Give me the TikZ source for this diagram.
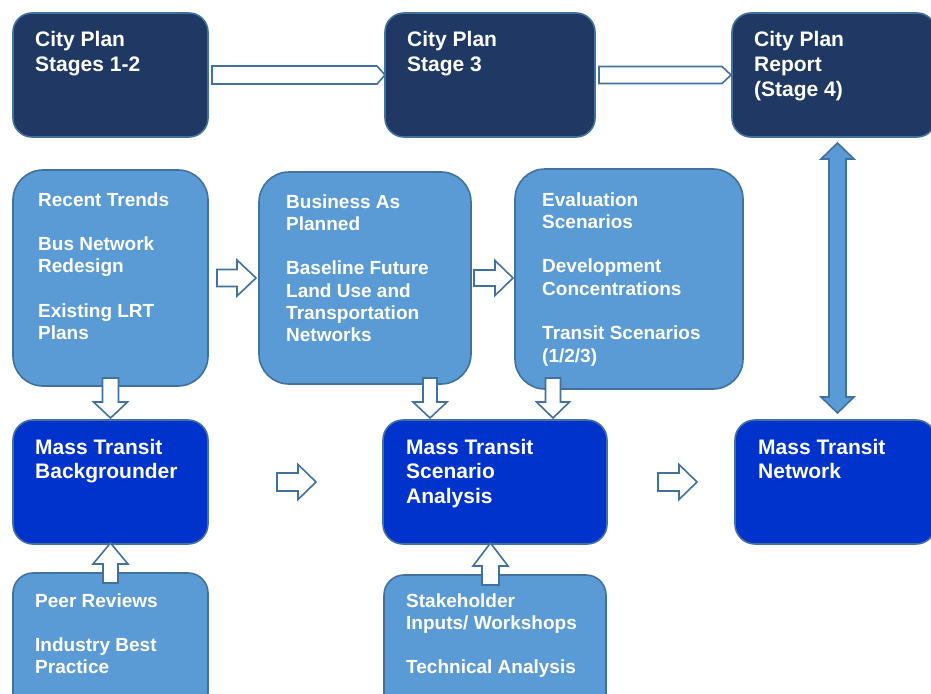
\documentclass[tikz,border=0pt]{standalone}
\usepackage{fontspec}
\setmainfont{Liberation Sans}
\usetikzlibrary{calc}
\definecolor{navy}{HTML}{203864}
\definecolor{midblue}{HTML}{5B9BD5}
\definecolor{brightblue}{HTML}{0033CC}
\definecolor{edgeblue}{HTML}{41719C}
\tikzset{
  box/.style={draw=edgeblue, line width=1.6pt, rectangle, anchor=north west, inner sep=0pt, outer sep=0pt},
  stagebox/.style={box, fill=navy, rounded corners=19pt},
  inputbox/.style={box, fill=midblue, rounded corners=30pt},
  smallinput/.style={box, fill=midblue, rounded corners=20pt},
  transitbox/.style={box, fill=brightblue, rounded corners=20pt},
  bigtxt/.style={anchor=base west, inner sep=0pt, text=white, font=\bfseries\fontsize{21}{24.7}\selectfont},
  smalltxt/.style={anchor=base west, inner sep=0pt, text=white, font=\bfseries\fontsize{19}{22.3}\selectfont},
  hollow/.style={draw=edgeblue, fill=white, line width=1.6pt, line join=miter},
  solidarrow/.style={draw=edgeblue, fill=midblue, line width=1.6pt, line join=miter},
}
% lines of a text block; the block's baseline is that of its first line
\newcommand{\tline}[1]{\hbox{#1}}
\newcommand{\gapline}{\vskip22.3pt}
% #1 style, #2 start, #3 tip, #4 shaft half width, #5 head half width, #6 head length
\newcommand{\BArrow}[6]{%
  \coordinate (hb) at ($(#3)!#6!(#2)$);
  \draw[#1] ($(#2)!#4!90:(#3)$) -- ($(hb)!#4!90:(#3)$) -- ($(hb)!#5!90:(#3)$) -- (#3)
    -- ($(hb)!#5!-90:(#3)$) -- ($(hb)!#4!-90:(#3)$) -- ($(#2)!#4!-90:(#3)$) -- cycle;}
\begin{document}
\begin{tikzpicture}[x=1pt, y=-1pt]
\useasboundingbox (0,0) rectangle (931,693);
\clip (0,0) rectangle (931,693);
\fill[white] (0,0) rectangle (931,693);

% boxes
\node[stagebox, minimum width=195pt, minimum height=124pt] (A) at (13,13) {};
\node[stagebox, minimum width=210pt, minimum height=124pt] (B) at (385,13) {};
\node[stagebox, minimum width=204pt, minimum height=124pt] (C) at (732,13) {};
\node[inputbox, minimum width=195pt, minimum height=216pt] (D) at (13,170) {};
\node[inputbox, minimum width=212pt, minimum height=212pt] (E) at (259,172) {};
\node[inputbox, minimum width=228pt, minimum height=220pt] (F) at (515,169) {};
\node[transitbox, minimum width=195pt, minimum height=124pt] (G) at (13,420) {};
\node[transitbox, minimum width=224pt, minimum height=124pt] (H) at (383,420) {};
\node[transitbox, minimum width=201pt, minimum height=124pt] (I) at (735,420) {};
\node[smallinput, minimum width=195pt, minimum height=140pt] (J) at (13,573) {};
\node[smallinput, minimum width=222pt, minimum height=140pt] (K) at (384,575) {};

% texts
\node[bigtxt] (tA) at (35,47) {\vtop{\tline{City Plan}\tline{Stages 1-2}}};
\node[bigtxt] (tB) at (407,47) {\vtop{\tline{City Plan}\tline{Stage 3}}};
\node[bigtxt] (tC) at (754,47) {\vtop{\tline{City Plan}\tline{Report}\tline{(Stage 4)}}};
\node[smalltxt] (tD) at (38,206) {\vtop{\tline{Recent Trends}\gapline\tline{Bus Network}\tline{Redesign}\gapline\tline{Existing LRT}\tline{Plans}}};
\node[smalltxt] (tE) at (286,208) {\vtop{\tline{Business As}\tline{Planned}\gapline\tline{Baseline Future}\tline{Land Use and}\tline{Transportation}\tline{Networks}}};
\node[smalltxt] (tF) at (542,206) {\vtop{\tline{Evaluation}\tline{Scenarios}\gapline\tline{Development}\tline{Concentrations}\gapline\tline{Transit Scenarios}\tline{(1/2/3)}}};
\node[bigtxt] (tG) at (35,454) {\vtop{\tline{Mass Transit}\tline{Backgrounder}}};
\node[bigtxt] (tH) at (406,454) {\vtop{\tline{Mass Transit}\tline{Scenario}\tline{Analysis}}};
\node[bigtxt] (tI) at (758,454) {\vtop{\tline{Mass Transit}\tline{Network}}};
\node[smalltxt] (tJ) at (35,607) {\vtop{\tline{Peer Reviews}\gapline\tline{Industry Best}\tline{Practice}}};
\node[smalltxt] (tK) at (406,607) {\vtop{\tline{Stakeholder}\tline{Inputs/ Workshops}\gapline\tline{Technical Analysis}}};

% connector end points
\coordinate (ab_s) at ($(A.east)+(4,0)$);
\coordinate (ab_t) at (B.west);
\coordinate (bc_s) at ($(B.east)+(4,0)$);
\coordinate (bc_t) at ($(C.west)+(-1,0)$);
\coordinate (de_s) at ($(D.east)+(9,0)$);
\coordinate (de_t) at ($(E.west |- D.east)+(-3,0)$);
\coordinate (ef_s) at ($(E.east)+(3,0)$);
\coordinate (ef_t) at ($(F.west |- E.east)+(-2,0)$);
\coordinate (gh_s) at ($(G.east)!0.5!(H.west)+(-18.5,0)$);
\coordinate (gh_t) at ($(G.east)!0.5!(H.west)+(20.5,0)$);
\coordinate (hi_s) at ($(H.east)+(51,0)$);
\coordinate (hi_t) at ($(I.west)+(-38,0)$);
\coordinate (dg_s) at ($(D.south)+(0,-8)$);
\coordinate (dg_t) at ($(G.north)+(0,-2)$);
\coordinate (eh_s) at ($(E.south)+(65,-6)$);
\coordinate (eh_t) at ($(eh_s |- H.north)+(0,-2)$);
\coordinate (fh_s) at ($(F.south)+(-76,-11)$);
\coordinate (fh_t) at ($(fh_s |- H.north)+(0,-2)$);
\coordinate (jg_s) at ($(J.north)+(0,10)$);
\coordinate (jg_t) at ($(G.south)+(0,-1)$);
\coordinate (kh_s) at ($(K.north)+(-4.5,10)$);
\coordinate (kh_t) at ($(kh_s |- H.south)+(0,-1)$);
\coordinate (ci_t) at ($(C.south west)+(105.5,6)$);
\coordinate (ci_b) at ($(I.north west)+(102.5,-7)$);

% block arrows
\BArrow{hollow}{ab_s}{ab_t}{9pt}{9pt}{8pt}
\BArrow{hollow}{bc_s}{bc_t}{8.5pt}{8.5pt}{9pt}
\BArrow{hollow}{de_s}{de_t}{8.5pt}{18pt}{19pt}
\BArrow{hollow}{ef_s}{ef_t}{8pt}{17.5pt}{18pt}
\BArrow{hollow}{gh_s}{gh_t}{9pt}{17.5pt}{18pt}
\BArrow{hollow}{hi_s}{hi_t}{9pt}{17.5pt}{18pt}
\BArrow{hollow}{dg_s}{dg_t}{8pt}{17pt}{16pt}
\BArrow{hollow}{eh_s}{eh_t}{7pt}{17pt}{16pt}
\BArrow{hollow}{fh_s}{fh_t}{7.5pt}{16.5pt}{16pt}
\BArrow{hollow}{jg_s}{jg_t}{7.5pt}{17.5pt}{21pt}
\BArrow{hollow}{kh_s}{kh_t}{8.5pt}{17.5pt}{23pt}

% double arrow between report and network
\draw[solidarrow] (ci_t) -- ++(16.5,16) -- ++(-8,0) -- ($(ci_b)+(8.5,-16)$) -- ++(8,0) -- (ci_b)
  -- ++(-16.5,-16) -- ++(8,0) -- ($(ci_t)+(-8.5,16)$) -- ++(-8,0) -- cycle;
\end{tikzpicture}
\end{document}
